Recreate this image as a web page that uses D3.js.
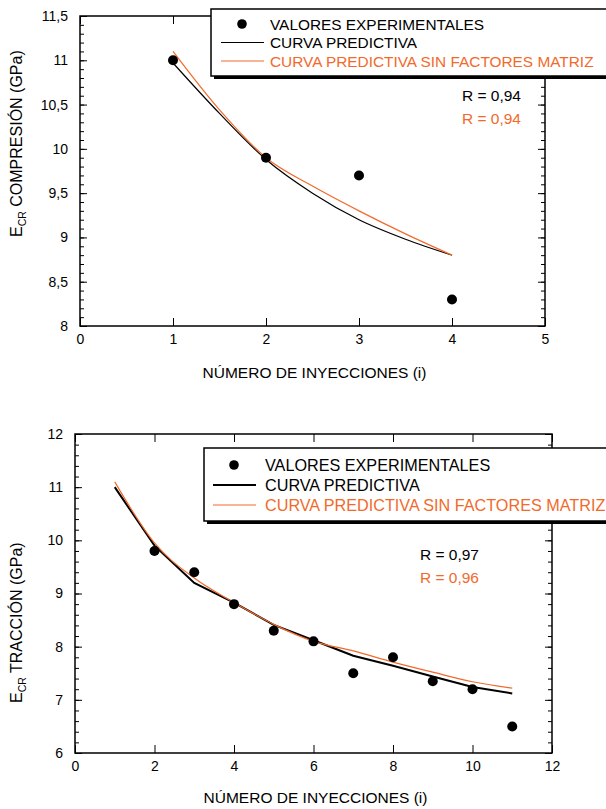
<!DOCTYPE html>
<html>
<head>
<meta charset="utf-8">
<script src="https://cdn.jsdelivr.net/npm/d3@7"></script>
<style>
  body { margin: 0; background: #fff; }
  svg { display: block; font-family: "Liberation Sans", Arial, sans-serif; }
  .axis line { stroke: #000; }
</style>
</head>
<body>
<div id="chart"></div>
<script>
var orange = "#f26a2b";

// panel 1: compresion
var compX = [1, 2, 3, 4];
var compExp = [11.0, 9.9, 9.7, 8.3];
var compCurveX = [1, 1.5, 2, 2.5, 3, 3.5, 4];
var compPred = [10.97, 10.40, 9.88, 9.50, 9.20, 8.98, 8.80];
var compPredSin = [11.10, 10.44, 9.90, 9.58, 9.30, 9.04, 8.80];
var compXTicks = [0, 1, 2, 3, 4, 5];
var compYTicks = [8, 8.5, 9, 9.5, 10, 10.5, 11, 11.5];
var compR = ["R = 0,94", "R = 0,94"];

// panel 2: traccion
var tracX = [2, 3, 4, 5, 6, 7, 8, 9, 10, 11];
var tracExp = [9.8, 9.4, 8.8, 8.3, 8.1, 7.5, 7.8, 7.35, 7.2, 6.5];
var tracCurveX = [1, 2, 3, 4, 5, 6, 7, 8, 9, 10, 11];
var tracPred = [11.0, 9.9, 9.2, 8.83, 8.41, 8.12, 7.83, 7.64, 7.44, 7.24, 7.12];
var tracPredSin = [11.1, 9.95, 9.29, 8.83, 8.42, 8.1, 7.92, 7.71, 7.52, 7.34, 7.22];
var tracXTicks = [0, 2, 4, 6, 8, 10, 12];
var tracYTicks = [6, 7, 8, 9, 10, 11, 12];
var tracR = ["R = 0,97", "R = 0,96"];

var legendLabels = ["VALORES EXPERIMENTALES", "CURVA PREDICTIVA", "CURVA PREDICTIVA SIN FACTORES MATRIZ"];

var svg = d3.select("#chart").append("svg")
    .attr("width", 606)
    .attr("height", 809);

function comma(d) {
    return String(d).replace(".", ",");
}

function range(a, b, step) {
    var out = [];
    for (var v = a; v <= b + 1e-9; v += step) out.push(+v.toFixed(4));
    return out;
}

function styleAxis(sel) {
    sel.attr("font-family", "Liberation Sans, Arial, sans-serif").attr("font-size", 14);
    sel.selectAll("text").attr("fill", "#000");
}

function drawPanel(c) {
    var x = d3.scaleLinear().domain(c.xDomain).range(c.xRange);
    var y = d3.scaleLinear().domain(c.yDomain).range(c.yRange);
    var g = svg.append("g");
    var left = c.xRange[0], right = c.xRange[1], top = c.yRange[1], bottom = c.yRange[0];

    var minor = range(c.yDomain[0], c.yDomain[1], c.yMinor);

    // y axes (ticks inward)
    g.append("g").attr("class", "axis")
        .attr("transform", "translate(" + left + ",0)")
        .call(d3.axisLeft(y).tickValues(minor).tickFormat("").tickSizeInner(-4).tickSizeOuter(0));
    g.append("g").attr("class", "axis")
        .attr("transform", "translate(" + left + ",0)")
        .call(d3.axisLeft(y).tickValues(c.yTicks).tickFormat(comma).tickSizeInner(-7).tickSizeOuter(0).tickPadding(12))
        .call(styleAxis);
    g.append("g").attr("class", "axis")
        .attr("transform", "translate(" + right + ",0)")
        .call(d3.axisRight(y).tickValues(minor).tickFormat("").tickSizeInner(-4).tickSizeOuter(0));
    g.append("g").attr("class", "axis")
        .attr("transform", "translate(" + right + ",0)")
        .call(d3.axisRight(y).tickValues(c.yTicks).tickFormat("").tickSizeInner(-7).tickSizeOuter(0));

    // x axes
    g.append("g").attr("class", "axis")
        .attr("transform", "translate(0," + bottom + ")")
        .call(d3.axisBottom(x).tickValues(c.xTicks).tickFormat(d3.format("d")).tickSizeInner(-8).tickSizeOuter(0).tickPadding(8))
        .call(styleAxis);
    g.append("g").attr("class", "axis")
        .attr("transform", "translate(0," + top + ")")
        .call(d3.axisTop(x).tickValues(c.xTicks).tickFormat("").tickSizeInner(-8).tickSizeOuter(0));

    g.selectAll(".axis .domain").remove();

    g.append("rect")
        .attr("x", left).attr("y", top)
        .attr("width", right - left).attr("height", bottom - top)
        .attr("fill", "none").attr("stroke", "#000").attr("stroke-width", 1.5);

    // curves
    var curveA = c.curveX.map(function (d, i) { return [d, c.pred[i]]; });
    var curveB = c.curveX.map(function (d, i) { return [d, c.predSin[i]]; });

    g.append("path").datum(curveA)
        .attr("fill", "none").attr("stroke", "#000").attr("stroke-width", c.blackWidth)
        .attr("d", d3.line().x(function (d) { return x(d[0]); }).y(function (d) { return y(d[1]); }).curve(c.blackCurve));
    g.append("path").datum(curveB)
        .attr("fill", "none").attr("stroke", orange).attr("stroke-width", 1.2)
        .attr("d", d3.line().x(function (d) { return x(d[0]); }).y(function (d) { return y(d[1]); }).curve(d3.curveMonotoneX));

    g.selectAll("circle.pt").data(c.expX).enter().append("circle")
        .attr("class", "pt")
        .attr("cx", function (d) { return x(d); })
        .attr("cy", function (d, i) { return y(c.exp[i]); })
        .attr("r", 5)
        .attr("fill", "#000");

    // R labels
    g.append("text").attr("x", c.rX).attr("y", c.rY).attr("text-anchor", "end")
        .style("font-size", "15.5px").text(c.r[0]);
    g.append("text").attr("x", c.rX).attr("y", c.rY + 23).attr("text-anchor", "end")
        .style("font-size", "15.5px").attr("fill", orange).text(c.r[1]);

    // legend
    var lg = g.append("g").attr("transform", "translate(" + c.legX + "," + c.legY + ")");
    lg.append("rect").attr("x", 3).attr("y", 3).attr("width", 500).attr("height", c.legH).attr("fill", "#000");
    lg.append("rect").attr("x", 0).attr("y", 0).attr("width", 500).attr("height", c.legH)
        .attr("fill", "#fff").attr("stroke", "#000").attr("stroke-width", 1.5);
    var rowY = [c.legRow0, c.legRow0 + c.legStep, c.legRow0 + 2 * c.legStep];
    lg.append("circle").attr("cx", c.legSym0 + 21).attr("cy", rowY[0]).attr("r", 4.8).attr("fill", "#000");
    lg.append("line").attr("x1", c.legSym0).attr("x2", c.legSym0 + 43).attr("y1", rowY[1]).attr("y2", rowY[1])
        .attr("stroke", "#000").attr("stroke-width", c.blackWidth);
    lg.append("line").attr("x1", c.legSym0).attr("x2", c.legSym0 + 43).attr("y1", rowY[2]).attr("y2", rowY[2])
        .attr("stroke", orange).attr("stroke-width", 1.2);
    lg.selectAll("text.leg").data(legendLabels).enter().append("text")
        .attr("class", "leg")
        .attr("x", c.legText)
        .attr("y", function (d, i) { return rowY[i] + 5.5; })
        .attr("fill", function (d, i) { return i === 2 ? orange : "#000"; })
        .style("font-size", c.legFont + "px")
        .text(function (d) { return d; });

    // axis titles
    g.append("text")
        .attr("x", (left + right) / 2 + 2).attr("y", c.xTitleY)
        .attr("text-anchor", "middle").style("font-size", "15.5px")
        .text("NÚMERO DE INYECCIONES (i)");

    var yt = g.append("text")
        .attr("transform", "translate(22," + c.yTitleStart + ") rotate(-90)")
        .style("font-size", "16px");
    yt.append("tspan").text("E");
    yt.append("tspan").attr("dy", 4).style("font-size", "10.5px").text("CR");
    yt.append("tspan").attr("dy", -4).text(" " + c.yTitle);
}

drawPanel({
    xDomain: [0, 5], xRange: [80, 545],
    yDomain: [8, 11.5], yRange: [326, 16],
    xTicks: compXTicks, yTicks: compYTicks, yMinor: 0.1,
    expX: compX, exp: compExp,
    curveX: compCurveX, pred: compPred, predSin: compPredSin,
    blackCurve: d3.curveMonotoneX, blackWidth: 1.2,
    r: compR, rX: 521, rY: 101,
    legX: 211, legY: 9, legH: 67, legRow0: 15, legStep: 18.5, legSym0: 10, legText: 59, legFont: 15.4,
    xTitleY: 378, yTitleStart: 237, yTitle: "COMPRESIÓN  (GPa)"
});

drawPanel({
    xDomain: [0, 12], xRange: [75, 552],
    yDomain: [6, 12], yRange: [753, 434],
    xTicks: tracXTicks, yTicks: tracYTicks, yMinor: 0.2,
    expX: tracX, exp: tracExp,
    curveX: tracCurveX, pred: tracPred, predSin: tracPredSin,
    blackCurve: d3.curveLinear, blackWidth: 2,
    r: tracR, rX: 479, rY: 560,
    legX: 204, legY: 448, legH: 73, legRow0: 17, legStep: 20, legSym0: 9, legText: 61, legFont: 16.2,
    xTitleY: 803, yTitleStart: 703, yTitle: "TRACCIÓN  (GPa)"
});
</script>
</body>
</html>
